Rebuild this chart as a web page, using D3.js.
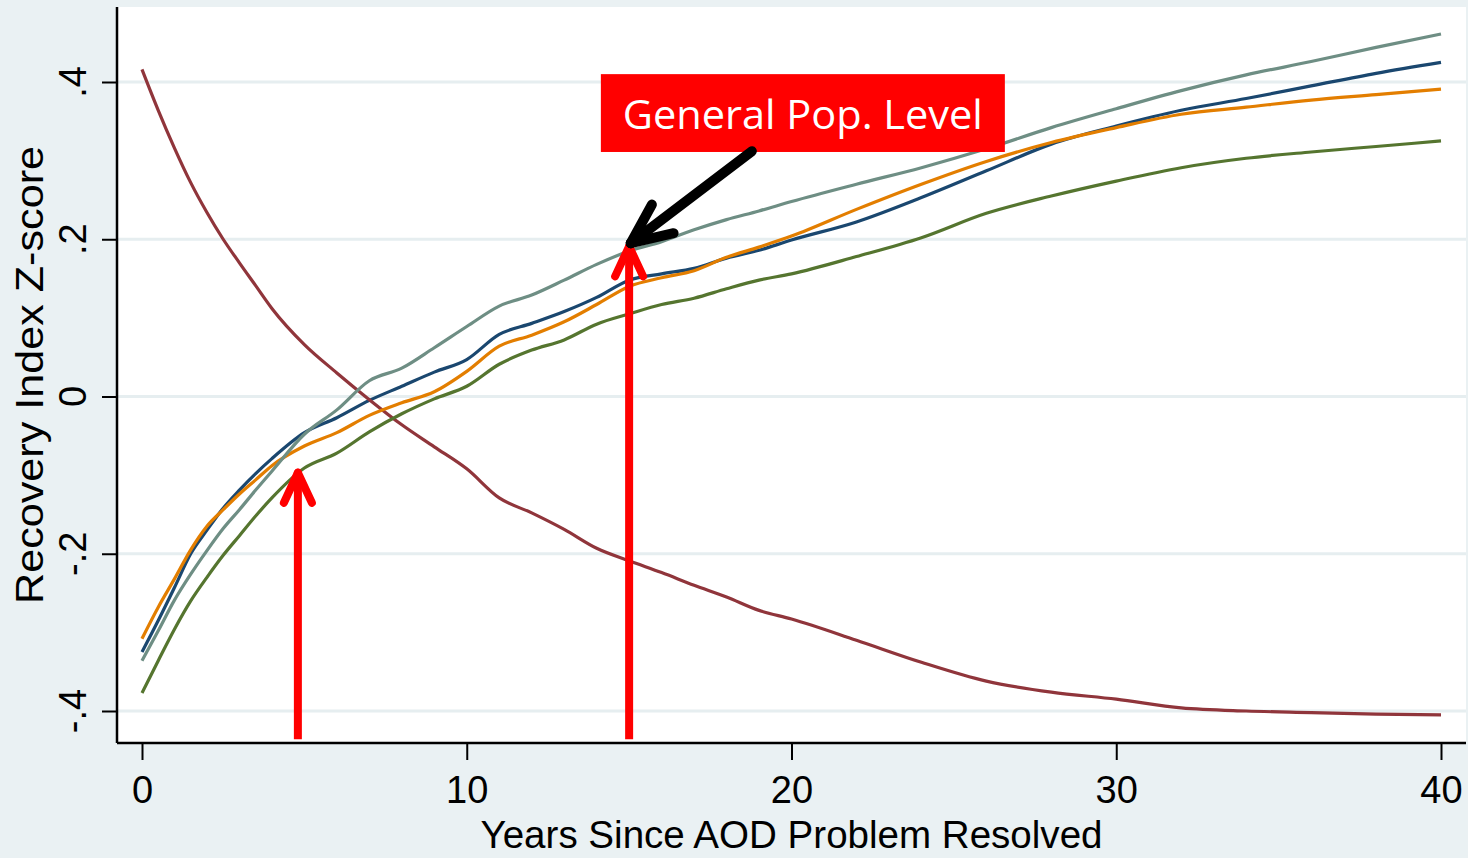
<!DOCTYPE html>
<html>
<head>
<meta charset="utf-8">
<script src="https://cdn.jsdelivr.net/npm/d3@7"></script>
<style>
  html, body { margin: 0; padding: 0; background: #eaf1f3; }
  svg { display: block; }
</style>
</head>
<body>
<div id="chart"></div>
<script>
// years since AOD problem resolved (shared x for every series)
const years = [0, 0.5, 1, 1.5, 2, 2.5, 3, 3.5, 4, 5, 6, 7, 8, 9, 10, 11, 12, 13, 14, 15,
  16, 17, 18, 19, 20, 22, 24, 26, 28, 30, 32, 34, 36, 38, 40];

// recovery index z-scores
const navySeries = [-0.325, -0.285, -0.243, -0.200, -0.170, -0.142, -0.119, -0.098, -0.079, -0.046,
  -0.027, -0.005, 0.013, 0.031, 0.047, 0.079, 0.093, 0.108, 0.126, 0.148,
  0.156, 0.163, 0.176, 0.186, 0.199, 0.222, 0.253, 0.287, 0.321, 0.344, 0.364, 0.379, 0.395, 0.411, 0.425];
const maroonSeries = [0.416, 0.364, 0.316, 0.272, 0.234, 0.200, 0.170, 0.141, 0.112, 0.066,
  0.030, -0.004, -0.036, -0.064, -0.092, -0.129, -0.148, -0.169, -0.193, -0.209,
  -0.224, -0.240, -0.255, -0.272, -0.283, -0.310, -0.338, -0.362, -0.376, -0.385, -0.396, -0.400, -0.402, -0.404, -0.405];
const greenSeries = [-0.377, -0.336, -0.296, -0.260, -0.230, -0.202, -0.177, -0.152, -0.129, -0.091,
  -0.072, -0.045, -0.022, -0.003, 0.013, 0.041, 0.059, 0.072, 0.092, 0.105,
  0.117, 0.125, 0.137, 0.148, 0.156, 0.178, 0.202, 0.233, 0.255, 0.274, 0.291, 0.303, 0.311, 0.318, 0.325];
const orangeSeries = [-0.308, -0.268, -0.232, -0.195, -0.165, -0.144, -0.124, -0.106, -0.088, -0.063,
  -0.046, -0.024, -0.008, 0.006, 0.032, 0.064, 0.078, 0.095, 0.117, 0.140,
  0.151, 0.160, 0.177, 0.190, 0.204, 0.238, 0.270, 0.299, 0.323, 0.342, 0.359, 0.368, 0.377, 0.384, 0.391];
const tealSeries = [-0.336, -0.298, -0.259, -0.226, -0.196, -0.168, -0.144, -0.119, -0.095, -0.048,
  -0.017, 0.020, 0.036, 0.062, 0.089, 0.115, 0.129, 0.148, 0.168, 0.185,
  0.197, 0.212, 0.225, 0.236, 0.248, 0.270, 0.291, 0.315, 0.342, 0.366, 0.389, 0.409, 0.426, 0.444, 0.461];

// axis ticks
const xTicks = [0, 10, 20, 30, 40];
const yTicks = [-0.4, -0.2, 0, 0.2, 0.4];
const yTickLabels = ["-.4", "-.2", "0", ".2", ".4"];

// annotations (in data units)
const redArrowYears = [4.8, 15];
const redArrowTips = [-0.097, 0.191];
const redArrowBase = -0.436;
const noteText = "General Pop. Level";
const noteBox = { x0: 14.13, x1: 26.57, y0: 0.41, y1: 0.311 };
const blackArrow = { fromYear: 18.78, fromVal: 0.312, toYear: 15.05, toVal: 0.195 };

const width = 1468;
const height = 858;
const plot = { left: 117, right: 1466, top: 7, bottom: 743 };

const svg = d3.select("#chart")
  .append("svg")
  .attr("width", width)
  .attr("height", height);

svg.append("rect")
  .attr("width", width)
  .attr("height", height)
  .attr("fill", "#eaf1f3");

svg.append("rect")
  .attr("x", plot.left)
  .attr("y", plot.top)
  .attr("width", plot.right - plot.left)
  .attr("height", plot.bottom - plot.top)
  .attr("fill", "#ffffff");

const x = d3.scaleLinear().domain([0, 40]).range([142, 1441]);
const y = d3.scaleLinear().domain([-0.4, 0.4]).range([711, 82]);

// gridlines
svg.append("g")
  .selectAll("line")
  .data(yTicks)
  .enter().append("line")
  .attr("x1", plot.left)
  .attr("x2", plot.right)
  .attr("y1", d => y(d))
  .attr("y2", d => y(d))
  .attr("stroke", "#e6eef0")
  .attr("stroke-width", 3);

// y axis
const yAxis = svg.append("g")
  .attr("transform", `translate(${plot.left},0)`)
  .call(d3.axisLeft(y).tickValues(yTicks).tickSize(15).tickFormat(""));
yAxis.select(".domain").attr("d", `M0,${plot.top}V${plot.bottom}`).attr("stroke", "#000").attr("stroke-width", 2.5);
yAxis.selectAll(".tick line").attr("stroke", "#000").attr("stroke-width", 2);

svg.append("g")
  .selectAll("text")
  .data(yTicks)
  .enter().append("text")
  .attr("transform", d => `translate(86,${y(d)}) rotate(-90)`)
  .attr("text-anchor", "middle")
  .attr("font-family", "Liberation Sans, Arial, sans-serif")
  .attr("font-size", 38)
  .attr("fill", "#000")
  .text((d, i) => yTickLabels[i]);

// x axis
const xAxis = svg.append("g")
  .attr("transform", `translate(0,${plot.bottom})`)
  .call(d3.axisBottom(x).tickValues(xTicks).tickSize(17).tickPadding(44).tickFormat(d3.format("d")));
xAxis.select(".domain").attr("d", `M${plot.left},0H${plot.right}`).attr("stroke", "#000").attr("stroke-width", 2.5);
xAxis.selectAll(".tick line").attr("stroke", "#000").attr("stroke-width", 2);
xAxis.selectAll(".tick text")
  .attr("font-family", "Liberation Sans, Arial, sans-serif")
  .attr("font-size", 38)
  .attr("fill", "#000")
  .attr("dy", 0)
  .attr("y", 60);

// axis titles
svg.append("text")
  .attr("x", (plot.left + plot.right) / 2)
  .attr("y", 848)
  .attr("text-anchor", "middle")
  .attr("font-family", "Liberation Sans, Arial, sans-serif")
  .attr("font-size", 38)
  .attr("fill", "#000")
  .attr("textLength", 622)
  .attr("lengthAdjust", "spacingAndGlyphs")
  .text("Years Since AOD Problem Resolved");

svg.append("text")
  .attr("transform", "translate(43,375) rotate(-90)")
  .attr("text-anchor", "middle")
  .attr("font-family", "Liberation Sans, Arial, sans-serif")
  .attr("font-size", 39)
  .attr("fill", "#000")
  .attr("textLength", 458)
  .attr("lengthAdjust", "spacingAndGlyphs")
  .text("Recovery Index Z-score");

// series lines
const series = [
  { values: navySeries, color: "#1a476f" },
  { values: maroonSeries, color: "#90353b" },
  { values: greenSeries, color: "#55752f" },
  { values: orangeSeries, color: "#e37e00" },
  { values: tealSeries, color: "#6e8e84" }
];

const line = d3.line()
  .x((d, i) => x(years[i]))
  .y(d => y(d))
  .curve(d3.curveMonotoneX);

svg.append("g")
  .selectAll("path")
  .data(series)
  .enter().append("path")
  .attr("d", d => line(d.values))
  .attr("fill", "none")
  .attr("stroke", d => d.color)
  .attr("stroke-width", 3.2)
  .attr("stroke-linejoin", "round");

// arrows
function drawArrow(x1, y1, x2, y2, color, w, headLen) {
  const g = svg.append("g")
    .attr("stroke", color)
    .attr("stroke-width", w)
    .attr("stroke-linecap", "round")
    .attr("fill", "none");
  g.append("line").attr("x1", x1).attr("y1", y1).attr("x2", x2).attr("y2", y2);
  const ang = Math.atan2(y1 - y2, x1 - x2);
  [-0.42, 0.42].forEach(a => {
    g.append("line")
      .attr("x1", x2).attr("y1", y2)
      .attr("x2", x2 + headLen * Math.cos(ang + a))
      .attr("y2", y2 + headLen * Math.sin(ang + a));
  });
}

redArrowYears.forEach((yr, i) => {
  const ax = x(yr);
  const g = svg.append("g").attr("stroke", "#ff0000").attr("fill", "none");
  g.append("line")
    .attr("x1", ax).attr("x2", ax)
    .attr("y1", y(redArrowBase)).attr("y2", y(redArrowTips[i]) + 3)
    .attr("stroke-width", 8);
  const tipY = y(redArrowTips[i]);
  [-1, 1].forEach(s => {
    g.append("line")
      .attr("x1", ax).attr("y1", tipY)
      .attr("x2", ax + s * 14).attr("y2", tipY + 30)
      .attr("stroke-width", 8)
      .attr("stroke-linecap", "round");
  });
});

// note box
svg.append("rect")
  .attr("x", x(noteBox.x0))
  .attr("y", y(noteBox.y0))
  .attr("width", x(noteBox.x1) - x(noteBox.x0))
  .attr("height", y(noteBox.y1) - y(noteBox.y0))
  .attr("fill", "#ff0000");

svg.append("text")
  .attr("x", (x(noteBox.x0) + x(noteBox.x1)) / 2)
  .attr("y", y(noteBox.y0) + 55)
  .attr("text-anchor", "middle")
  .attr("font-family", "Open Sans, Noto Sans, sans-serif")
  .attr("font-size", 41)
  .attr("fill", "#ffffff")
  .attr("textLength", 360)
  .attr("lengthAdjust", "spacingAndGlyphs")
  .text(noteText);

drawArrow(x(blackArrow.fromYear), y(blackArrow.fromVal), x(blackArrow.toYear), y(blackArrow.toVal), "#000", 10, 44);
</script>
</body>
</html>
